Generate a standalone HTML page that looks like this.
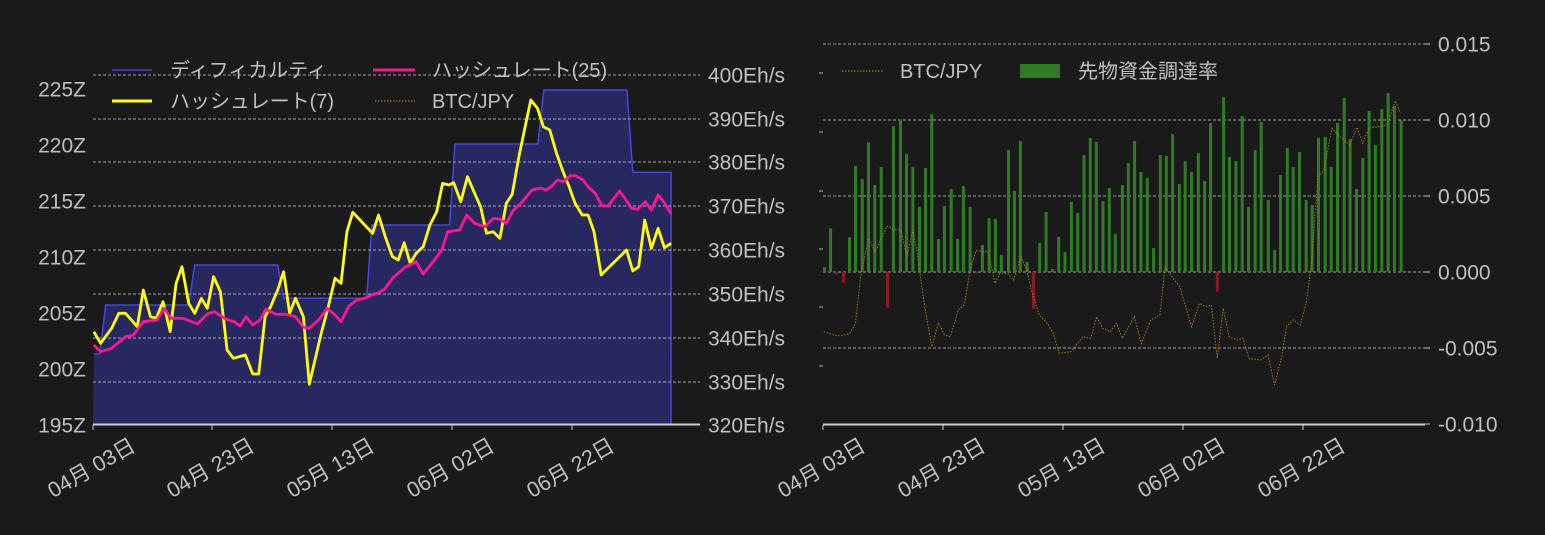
<!DOCTYPE html>
<html><head><meta charset="utf-8"><style>
html,body{margin:0;padding:0;background:#1a1a1a;}
svg{display:block;font-family:"Liberation Sans","Noto Sans CJK JP",sans-serif;}
</style></head><body>
<svg id="s" width="1545" height="535" xmlns="http://www.w3.org/2000/svg"></svg>
<script>
const S=document.getElementById('s');let h='';
const K=2.529;
function P(arr,ox,oy){return arr.map(p=>[(p[0]/K+ox).toFixed(1),(p[1]/3+oy).toFixed(1)].join(',')).join(' ');}
h+='<rect width="1545" height="535" fill="#1a1a1a"/>';
const blue=[[35,912],[50,912],[65,765],[275,765],[290,645],[500,645],[515,745],[725,745],[738,525],[935,525],[948,282],[1158,282],[1173,120],[1383,120],[1398,367],[1495,367],[1495,1120]];
const bp=blue.map(p=>[p[0]/K+80,p[1]/3+50]);
let area='93,424 '+bp.map(p=>p[0].toFixed(1)+','+p[1].toFixed(1)).join(' ')+' 671,424';
h+='<polygon points="'+area+'" fill="#282860"/>';
h+='<polyline points="'+bp.slice(0,-1).map(p=>p[0].toFixed(1)+','+p[1].toFixed(1)).join(' ')+' 671,424" fill="none" stroke="#4646e6" stroke-width="1.5"/>';
[75,119,162,206,250,294,338,382].forEach(y=>{h+=`<line x1="93" x2="700" y1="${y}" y2="${y}" stroke="#d0d0d0" stroke-width="0.8" stroke-dasharray="3,2"/>`;});
const btc=[[35,905],[68,918],[100,912],[115,880],[128,740],[148,625],[165,665],[195,588],[215,600],[230,600],[245,680],[260,600],[270,660],[290,830],[308,950],[325,878],[340,915],[355,920],[375,840],[390,825],[405,720],[420,662],[450,665],[468,760],[480,730],[500,730],[515,750],[533,680],[548,720],[560,780],[580,855],[600,880],[615,910],[630,970],[660,965],[690,920],[710,925],[725,860],[740,895],[760,905],[775,880],[790,925],[820,860],[838,940],[862,870],[885,855],[898,710],[915,740],[935,770],[965,890],[985,820],[1000,830],[1015,825],[1030,985],[1045,835],[1060,920],[1080,930],[1095,925],[1110,985],[1140,990],[1158,975],[1175,1065],[1193,980],[1205,890],[1222,870],[1240,885],[1255,820],[1268,700],[1285,440],[1300,420],[1320,295],[1340,320],[1365,345],[1383,292],[1398,340],[1413,295],[1460,285],[1480,212],[1493,250]];
h+='<polyline points="'+P(btc,80,30)+'" transform="translate(-730,0)" fill="none" stroke="#c08a10" stroke-width="1" stroke-dasharray="1.5,1.5" opacity="0.8"/>';
const yel=[[35,845],[52,880],[80,835],[98,790],[115,790],[145,830],[160,720],[178,800],[193,805],[210,755],[228,845],[243,700],[258,650],[275,760],[290,790],[307,745],[322,775],[338,680],[355,725],[372,900],[388,925],[418,915],[437,972],[452,972],[468,800],[482,770],[500,720],[515,665],[530,790],[545,745],[565,800],[580,1003],[610,850],[628,770],[645,685],[660,700],[675,545],[690,487],[720,525],[740,550],[755,495],[772,560],[790,620],[805,630],[820,578],[835,640],[850,610],[868,590],[885,525],[902,485],[917,400],[933,405],[945,398],[963,455],[980,380],[998,430],[1013,470],[1028,550],[1045,545],[1062,565],[1078,460],[1093,433],[1110,320],[1125,235],[1140,150],[1157,175],[1172,230],[1188,240],[1205,310],[1220,360],[1237,410],[1252,460],[1270,495],[1285,495],[1300,545],[1318,675],[1335,655],[1352,635],[1382,600],[1398,663],[1413,650],[1428,510],[1445,595],[1462,535],[1478,593],[1495,580]];
const pink=[[35,885],[52,905],[80,895],[115,860],[135,855],[160,815],[195,810],[213,775],[230,805],[260,805],[297,822],[322,792],[340,785],[370,808],[390,815],[405,828],[420,800],[437,825],[455,810],[470,778],[495,793],[520,793],[545,800],[565,832],[580,835],[605,808],[625,775],[645,795],[660,815],[680,768],[700,750],[720,745],[738,735],[755,728],[770,718],[790,685],[822,652],[850,635],[868,672],[890,640],[915,600],[930,545],[960,540],[978,495],[998,520],[1025,530],[1045,505],[1062,508],[1078,520],[1095,482],[1115,460],[1143,420],[1165,414],[1178,420],[1192,410],[1207,390],[1222,395],[1240,377],[1255,378],[1272,390],[1285,410],[1303,430],[1320,467],[1335,468],[1365,423],[1395,475],[1410,478],[1430,455],[1445,480],[1462,435],[1478,458],[1495,492]];
h+='<polyline points="'+P(yel,80,50)+'" fill="none" stroke="#ffff00" stroke-width="2.8" stroke-linejoin="round"/>';
h+='<polyline points="'+P(pink,80,50)+'" fill="none" stroke="#ff1493" stroke-width="2.8" stroke-linejoin="round"/>';
h+='<line x1="93" x2="700" y1="424.5" y2="424.5" stroke="#cfcfcf" stroke-width="2"/>';
const tc='#c0c0c0';
[['225Z',89],['220Z',145],['215Z',201],['210Z',257],['205Z',313],['200Z',369],['195Z',425]].forEach(a=>{h+=`<text x="86" y="${a[1]+7.5}" fill="${tc}" font-size="21" text-anchor="end">${a[0]}</text>`;});
[400,390,380,370,360,350,340,330,320].forEach((v,i)=>{const y=[75,119,162,206,250,294,338,382,425][i];h+=`<text x="708" y="${y+7.5}" fill="${tc}" font-size="21">${v}Eh/s</text>`;});
function xl(x){return `<text transform="translate(${x+44},450) rotate(-30)" fill="${tc}" font-size="21.5" text-anchor="end">`;}
const dl=['04月 03日','04月 23日','05月 13日','06月 02日','06月 22日'];
[93,212,332,452,572].forEach((x,i)=>{h+=`<line x1="${x}" x2="${x}" y1="425" y2="430" stroke="#ccc"/>`+xl(x)+dl[i]+'</text>';});
h+='<line x1="112" x2="152" y1="70" y2="70" stroke="#4646e6" stroke-width="1.5"/><text x="170" y="77" fill="'+tc+'" font-size="20">ディフィカルティ</text>';
h+='<line x1="373" x2="415" y1="70" y2="70" stroke="#ff1493" stroke-width="3"/><text x="432" y="77" fill="'+tc+'" font-size="20">ハッシュレート(25)</text>';
h+='<line x1="112" x2="152" y1="101" y2="101" stroke="#ffff00" stroke-width="3"/><text x="170" y="108" fill="'+tc+'" font-size="20">ハッシュレート(7)</text>';
h+='<line x1="375" x2="415" y1="101" y2="101" stroke="#c08a10" stroke-dasharray="1.5,1.5"/><text x="432" y="108" fill="'+tc+'" font-size="20">BTC/JPY</text>';
[44,120,196,272,348].forEach(y=>{h+=`<line x1="823" x2="1425" y1="${y}" y2="${y}" stroke="#d0d0d0" stroke-width="0.8" stroke-dasharray="3,2"/>`;});
[73,132,191,249,307,366].forEach(y=>{h+=`<line x1="819" x2="823" y1="${y}" y2="${y}" stroke="#aaa"/>`;});
const bars=[[37,712],[52,595],[66,-733],[85,-758],[100,622],[115,408],[132,447],[148,337],[164,465],[180,411],[196,-833],[211,288],[229,268],[244,372],[260,411],[277,531],[292,414],[308,252],[325,627],[340,528],[357,477],[373,627],[388,468],[405,531],[420,-731],[436,645],[453,565],[469,567],[484,675],[502,360],[517,483],[532,333],[549,696],[565,-836],[581,639],[597,546],[613,717],[629,621],[645,666],[661,516],[677,549],[693,375],[709,324],[724,336],[741,513],[757,474],[772,612],[790,465],[805,399],[821,333],[837,426],[853,444],[869,654],[886,375],[901,378],[917,312],[934,462],[949,393],[965,426],[982,369],[998,453],[1013,279],[1030,-785],[1046,201],[1061,381],[1077,393],[1093,258],[1109,531],[1126,360],[1141,276],[1159,510],[1175,660],[1190,435],[1207,354],[1222,411],[1238,366],[1255,510],[1270,525],[1286,324],[1303,321],[1318,411],[1334,279],[1351,204],[1366,327],[1382,477],[1398,384],[1414,243],[1430,345],[1446,237],[1462,189],[1478,228],[1495,271]];
const z=272;
bars.forEach(b=>{const x=b[0]/K+810-1.5;if(b[1]>0){const y=b[1]/3+30;h+=`<rect x="${x.toFixed(1)}" y="${y.toFixed(1)}" width="3" height="${(z-y).toFixed(1)}" fill="#2e7d22"/>`;}else{const y=-b[1]/3+30;h+=`<rect x="${x.toFixed(1)}" y="${z}" width="3" height="${(y-z).toFixed(1)}" fill="#8b1a28"/>`;}});
h+='<polyline points="'+P(btc,810,30)+'" fill="none" stroke="#c08a10" stroke-width="1" stroke-dasharray="1.5,1.5" opacity="0.85"/>';
h+='<line x1="823" x2="1425" y1="424.5" y2="424.5" stroke="#cfcfcf" stroke-width="2"/>';
[['0.015',44],['0.010',120],['0.005',196],['0.000',272],['-0.005',348],['-0.010',424]].forEach(a=>{h+=`<line x1="1425" x2="1430" y1="${a[1]}" y2="${a[1]}" stroke="#ccc"/><text x="1438" y="${a[1]+7.5}" fill="${tc}" font-size="21">${a[0]}</text>`;});
[823,943,1063,1183,1303].forEach((x,i)=>{h+=`<line x1="${x}" x2="${x}" y1="425" y2="430" stroke="#ccc"/>`+xl(x)+dl[i]+'</text>';});
h+='<line x1="842" x2="883" y1="71" y2="71" stroke="#c08a10" stroke-dasharray="1.5,1.5"/><text x="900" y="78" fill="'+tc+'" font-size="20">BTC/JPY</text>';
h+='<rect x="1020" y="64" width="40" height="14" fill="#2e7d22"/><text x="1078" y="78" fill="'+tc+'" font-size="20">先物資金調達率</text>';
S.innerHTML=h;
</script>
</body></html>
